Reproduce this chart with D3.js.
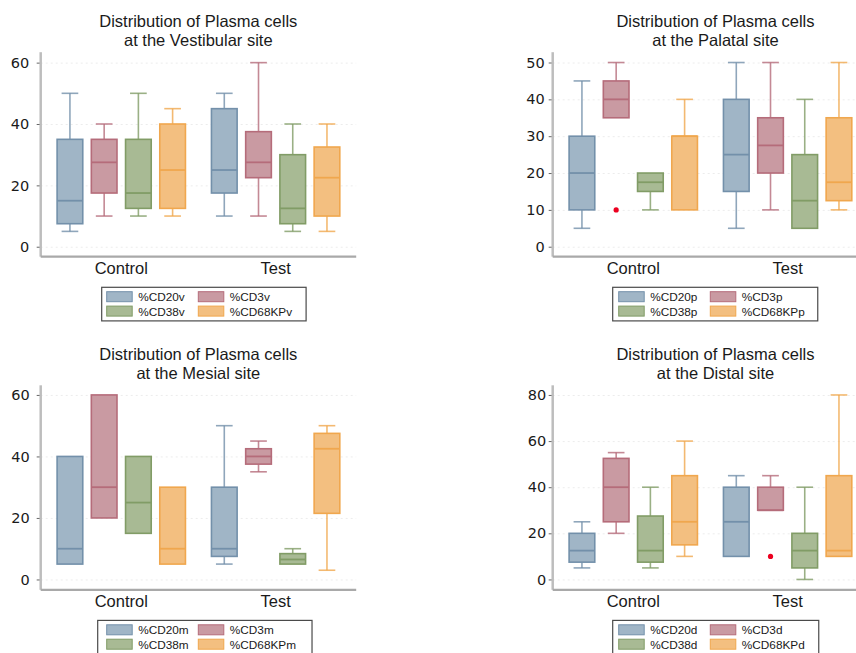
<!DOCTYPE html>
<html>
<head>
<meta charset="utf-8">
<script src="https://cdn.jsdelivr.net/npm/d3@7"></script>
<style>
  body { margin: 0; background: #fff; }
  svg { display: block; font-family: "Liberation Sans", Arial, sans-serif; }
</style>
</head>
<body>
<svg id="chart" width="856" height="653"></svg>
<script>
var groups = ["Control", "Test"];
var markers = ["CD20", "CD3", "CD38", "CD68KP"];

// per box: [lower whisker, q1, median, q3, upper whisker]
var vestibularControl = [[5, 7.5, 15, 35, 50], [10, 17.5, 27.5, 35, 40], [10, 12.5, 17.5, 35, 50], [10, 12.5, 25, 40, 45]];
var vestibularTest = [[10, 17.5, 25, 45, 50], [10, 22.5, 27.5, 37.5, 60], [5, 7.5, 12.5, 30, 40], [5, 10, 22.5, 32.5, 40]];
var palatalControl = [[5, 10, 20, 30, 45], [35, 35, 40, 45, 50], [10, 15, 17.5, 20, 20], [10, 10, 30, 30, 40]];
var palatalTest = [[5, 15, 25, 40, 50], [10, 20, 27.5, 35, 50], [5, 5, 12.5, 25, 40], [10, 12.5, 17.5, 35, 50]];
var mesialControl = [[5, 5, 10, 40, 40], [20, 20, 30, 60, 60], [15, 15, 25, 40, 40], [5, 5, 10, 30, 30]];
var mesialTest = [[5, 7.5, 10, 30, 50], [35, 37.5, 40, 42.5, 45], [5, 5, 6.5, 8.4, 10], [3, 21.5, 42.5, 47.5, 50]];
var distalControl = [[5, 7.5, 12.5, 20, 25], [20, 25, 40, 52.5, 55], [5, 7.5, 12.5, 27.5, 40], [10, 15, 25, 45, 60]];
var distalTest = [[10, 10, 25, 40, 45], [30, 30, 30, 40, 45], [0, 5, 12.5, 20, 40], [10, 10, 12.5, 45, 80]];

// outliers: [group, marker, value]
var palatalOutliers = [["Control", "CD3", 10]];
var distalOutliers = [["Test", "CD3", 10]];

var vestibularTicks = [0, 20, 40, 60];
var palatalTicks = [0, 10, 20, 30, 40, 50];
var mesialTicks = [0, 20, 40, 60];
var distalTicks = [0, 20, 40, 60, 80];

var fills = {CD20: "#a0b5c6", CD3: "#c99aa2", CD38: "#a8ba94", CD68KP: "#f3bf80"};
var strokes = {CD20: "#7390aa", CD3: "#b56c7a", CD38: "#819c66", CD68KP: "#f0a74e"};

var svg = d3.select("#chart");
svg.append("rect").attr("width", 856).attr("height", 653).attr("fill", "#fff");

var plotW = 315.5;

var drawPanel = function(p) {
  var g = svg.append("g");
  var top = p.top, bottom = p.top + 204.5;

  var y = d3.scaleLinear().domain(p.domain).range([bottom, top]);
  var outer = d3.scaleBand().domain(groups).range([p.left, p.left + plotW]).paddingInner(0).paddingOuter(0.022);
  var inner = d3.scaleBand().domain(markers).range([0, outer.bandwidth()]).paddingInner(0.25).paddingOuter(0.38);
  var bw = inner.bandwidth();

  // grid
  g.append("g")
    .attr("transform", "translate(" + p.left + ",0)")
    .call(d3.axisLeft(y).tickValues(p.ticks).tickSize(-plotW).tickFormat(""))
    .call(function(a) {
      a.select(".domain").remove();
      a.selectAll("line").attr("stroke", "#ececec").attr("stroke-dasharray", "2,3");
    });

  // y axis
  g.append("g")
    .attr("transform", "translate(" + p.left + ",0)")
    .call(d3.axisLeft(y).tickValues(p.ticks).tickSize(4).tickPadding(p.labelGap))
    .call(function(a) {
      a.select(".domain").remove();
      a.selectAll("line").attr("stroke", "#666");
      a.selectAll("text").attr("font-family", "'DejaVu Sans', sans-serif")
        .attr("font-size", "14.5px").attr("fill", "#1a1a1a");
    });

  g.append("line").attr("x1", p.left).attr("x2", p.left)
    .attr("y1", top).attr("y2", bottom)
    .attr("stroke", "#bdbdbd").attr("stroke-width", 2.5);
  g.append("line").attr("x1", p.left).attr("x2", p.left + plotW)
    .attr("y1", bottom).attr("y2", bottom)
    .attr("stroke", "#a9a9a9").attr("stroke-width", 2.2);

  // x axis labels
  g.append("g")
    .attr("transform", "translate(0," + bottom + ")")
    .call(d3.axisBottom(outer).tickSize(0).tickPadding(5.5))
    .call(function(a) {
      a.select(".domain").remove();
      a.selectAll("text").attr("font-family", "'Liberation Sans', Arial, sans-serif")
        .attr("font-size", "16.5px").attr("fill", "#1a1a1a");
    });

  // boxes
  var rows = [];
  groups.forEach(function(grp, gi) {
    p.data[gi].forEach(function(v, mi) {
      rows.push({group: grp, marker: markers[mi], v: v});
    });
  });

  var box = g.selectAll(".box")
    .data(rows)
    .enter()
    .append("g")
    .attr("transform", function(d) {
      return "translate(" + (outer(d.group) + inner(d.marker)) + ",0)";
    });

  var capW = bw * 0.65;
  box.each(function(d) {
    var b = d3.select(this);
    var c = strokes[d.marker];
    var mid = bw / 2;
    if (d.v[4] > d.v[3]) {
      b.append("line").attr("x1", mid).attr("x2", mid)
        .attr("y1", y(d.v[4])).attr("y2", y(d.v[3]))
        .attr("stroke", c).attr("stroke-width", 1.6).attr("stroke-opacity", 0.8);
      b.append("line").attr("x1", mid - capW / 2).attr("x2", mid + capW / 2)
        .attr("y1", y(d.v[4])).attr("y2", y(d.v[4]))
        .attr("stroke", c).attr("stroke-width", 1.6).attr("stroke-opacity", 0.8);
    }
    if (d.v[0] < d.v[1]) {
      b.append("line").attr("x1", mid).attr("x2", mid)
        .attr("y1", y(d.v[1])).attr("y2", y(d.v[0]))
        .attr("stroke", c).attr("stroke-width", 1.6).attr("stroke-opacity", 0.8);
      b.append("line").attr("x1", mid - capW / 2).attr("x2", mid + capW / 2)
        .attr("y1", y(d.v[0])).attr("y2", y(d.v[0]))
        .attr("stroke", c).attr("stroke-width", 1.6).attr("stroke-opacity", 0.8);
    }
    b.append("rect")
      .attr("x", 0).attr("width", bw)
      .attr("y", y(d.v[3]))
      .attr("height", y(d.v[1]) - y(d.v[3]))
      .attr("fill", fills[d.marker])
      .attr("stroke", c).attr("stroke-width", 1.6);
    b.append("line").attr("x1", 0).attr("x2", bw)
      .attr("y1", y(d.v[2])).attr("y2", y(d.v[2]))
      .attr("stroke", c).attr("stroke-width", 1.8);
  });

  g.selectAll(".outlier")
    .data(p.outliers)
    .enter()
    .append("circle")
    .attr("cx", function(d) { return outer(d[0]) + inner(d[1]) + bw / 2; })
    .attr("cy", function(d) { return y(d[2]); })
    .attr("r", 2.6)
    .attr("fill", "#ec0020");

  // title
  var title = g.append("text")
    .attr("x", p.left + p.titleDx)
    .attr("text-anchor", "middle")
    .attr("font-size", "16.5px")
    .attr("fill", "#1a1a1a");
  title.append("tspan").attr("x", p.left + p.titleDx).attr("y", top - 25).text("Distribution of Plasma cells");
  title.append("tspan").attr("x", p.left + p.titleDx).attr("y", top - 6.2).text("at the " + p.site + " site");

  // legend
  var ly = bottom + 30.6;
  var lg = g.append("g");
  var frame = lg.append("rect")
    .attr("x", p.left + p.legendDx).attr("y", ly)
    .attr("height", 33.6)
    .attr("fill", "#fff").attr("stroke", "#4a4a4a").attr("stroke-width", 1.2);
  var cols = [p.left + 66, p.left + 157.6];
  var maxRight = 0;
  markers.forEach(function(m, i) {
    var cx = cols[i % 2];
    var ry = ly + 4.4 + Math.floor(i / 2) * 14.4;
    lg.append("rect").attr("x", cx).attr("y", ry).attr("width", 25.5).attr("height", 10)
      .attr("fill", fills[m]).attr("stroke", strokes[m]).attr("stroke-width", 1);
    var t = lg.append("text").attr("x", cx + 31.5).attr("y", ry + 9.6)
      .attr("font-size", "11.8px").attr("fill", "#1a1a1a")
      .text("%" + m + p.suffix);
    var r = cx + 31.5 + t.node().getComputedTextLength();
    if (r > maxRight) maxRight = r;
  });
  frame.attr("width", maxRight + p.legendPadR - (p.left + p.legendDx));
};

drawPanel({site: "Vestibular", suffix: "v", left: 40.7, top: 52.2, domain: [-3.25, 63.4],
  ticks: vestibularTicks, data: [vestibularControl, vestibularTest], outliers: [],
  labelGap: 7.5, titleDx: 157.6, legendDx: 61, legendPadR: 14});
drawPanel({site: "Palatal", suffix: "p", left: 552.7, top: 52.2, domain: [-2.71, 52.8],
  ticks: palatalTicks, data: [palatalControl, palatalTest], outliers: palatalOutliers,
  labelGap: 4, titleDx: 162.8, legendDx: 60, legendPadR: 13});
drawPanel({site: "Mesial", suffix: "m", left: 40.7, top: 385.3, domain: [-3.36, 63.13],
  ticks: mesialTicks, data: [mesialControl, mesialTest], outliers: [],
  labelGap: 7, titleDx: 157.6, legendDx: 57, legendPadR: 16});
drawPanel({site: "Distal", suffix: "d", left: 552.7, top: 385.3, domain: [-4.49, 84.19],
  ticks: distalTicks, data: [distalControl, distalTest], outliers: distalOutliers,
  labelGap: 2.5, titleDx: 162.8, legendDx: 60, legendPadR: 14});
</script>
</body>
</html>
